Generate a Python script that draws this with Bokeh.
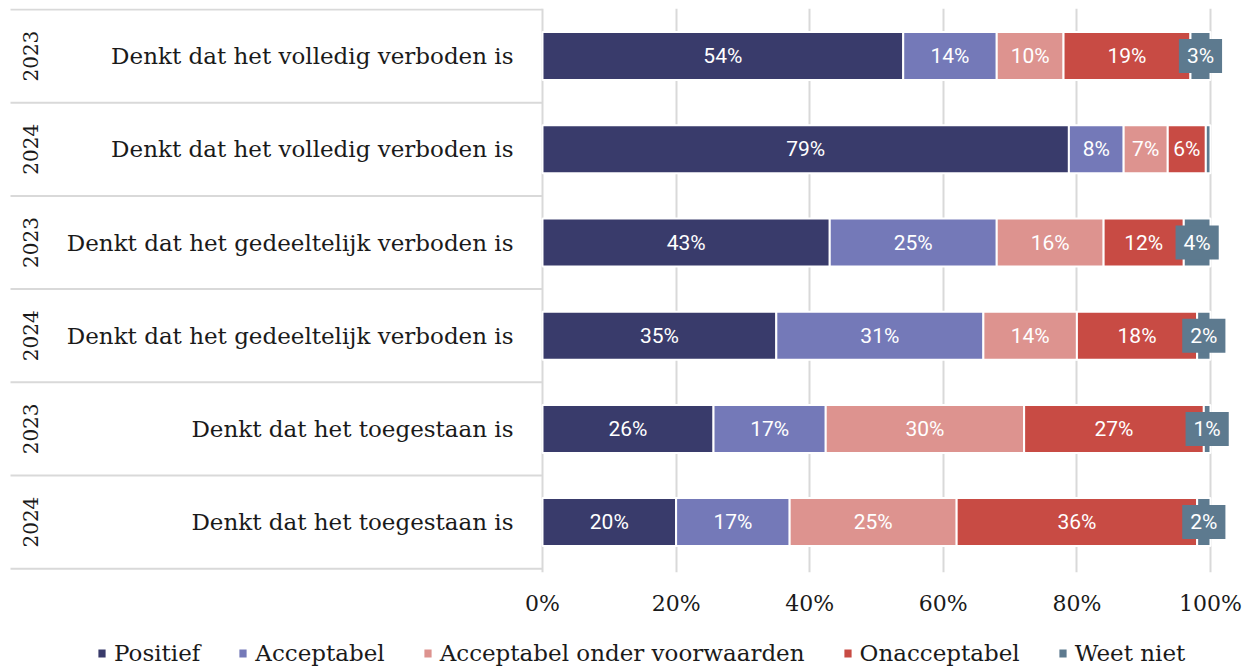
import math
from bokeh.plotting import figure
from bokeh.layouts import column
from bokeh.models import ColumnDataSource, Range1d, FixedTicker, Legend, LegendItem
from bokeh.core.properties import value
from bokeh.embed import file_html
from bokeh.resources import INLINE

# ---------------- data ----------------
years = ["2023", "2024", "2023", "2024", "2023", "2024"]
labels = [
    "Denkt dat het volledig verboden is",
    "Denkt dat het volledig verboden is",
    "Denkt dat het gedeeltelijk verboden is",
    "Denkt dat het gedeeltelijk verboden is",
    "Denkt dat het toegestaan is",
    "Denkt dat het toegestaan is",
]
series = ["Positief", "Acceptabel", "Acceptabel onder voorwaarden", "Onacceptabel", "Weet niet"]
positief = [54, 78.8, 43, 35, 25.6, 20]
acceptabel = [14, 8.2, 25, 31, 16.8, 17]
onder_voorwaarden = [10, 6.6, 16, 14, 29.7, 25]
onacceptabel = [19, 5.7, 12, 18, 26.9, 36]
weet_niet = [3, 0.7, 4, 2, 1.0, 2]
colors = ["#393b6b", "#7479b8", "#dd938f", "#c84b44", "#5d7a8f"]
ticks = [0, 20, 40, 60, 80, 100]
tick_labels = ["0%", "20%", "40%", "60%", "80%", "100%"]

# ---------------- layout constants ----------------
PX_PER_PCT = 6.68      # pixels per percent
ZERO_X = 542           # canvas x of 0%
FRAME_LEFT = 10
FRAME_RIGHT = 1238
FRAME_TOP = 8
ROW_PX = 93.2
FIG_W = 1255
FRAME_H = 564
MAIN_H = 632
LEG_H = 34

def px2x(px):
    return (px - ZERO_X) / PX_PER_PCT

n = len(years)
x_start = px2x(FRAME_LEFT)
x_end = px2x(FRAME_RIGHT)
y_top = -1.0 / ROW_PX
y_bottom = y_top + FRAME_H / ROW_PX

p = figure(
    width=FIG_W, height=MAIN_H,
    x_range=Range1d(x_start, x_end),
    y_range=Range1d(y_bottom, y_top),
    output_backend="svg", toolbar_location=None,
    y_axis_location=None,
    min_border_left=FRAME_LEFT,
    min_border_right=FIG_W - FRAME_RIGHT,
    min_border_top=FRAME_TOP,
    min_border_bottom=MAIN_H - FRAME_TOP - FRAME_H,
)
p.outline_line_color = None
p.background_fill_color = "white"
p.border_fill_color = "white"

# grid
p.xgrid.ticker = FixedTicker(ticks=ticks)
p.xgrid.grid_line_color = "#d9d9d9"
p.xgrid.grid_line_width = 2
p.ygrid.grid_line_color = None

# axis
ax = p.xaxis[0]
ax.ticker = FixedTicker(ticks=ticks)
ax.major_label_overrides = {t: l for t, l in zip(ticks, tick_labels)}
ax.axis_line_color = None
ax.major_tick_line_color = None
ax.minor_tick_line_color = None
ax.major_tick_out = 0
ax.major_tick_in = 0
ax.major_label_standoff = 18
ax.major_label_text_font = "DejaVu Serif"
ax.major_label_text_font_size = "22px"
ax.major_label_text_color = "#1a1a1a"

# table separators
bounds = list(range(n + 1))
p.segment(x0=[px2x(9)] * len(bounds), x1=[0] * len(bounds), y0=bounds, y1=bounds,
          line_color="#d9d9d9", line_width=2)

# bars
ycent = [i + 0.5 for i in range(n)]
keys = ["s0", "s1", "s2", "s3", "s4"]
vals = [positief, acceptabel, onder_voorwaarden, onacceptabel, weet_niet]
src = ColumnDataSource(dict(y=ycent, **{k: v for k, v in zip(keys, vals)}))
rs = p.hbar_stack(keys, y="y", height=0.515, color=colors, line_color="white",
                  line_width=2, source=src)

# segment labels
lx, ly, lt = [], [], []
wx, wy, wt = [], [], []
for i in range(n):
    cum = 0
    for j, v in enumerate(vals):
        c = cum + v[i] / 2
        cum += v[i]
        if v[i] < 1:
            continue
        txt = f"{int(math.floor(v[i] + 0.5))}%"
        if j == 4:
            wx.append(c); wy.append(ycent[i]); wt.append(txt)
        else:
            lx.append(c); ly.append(ycent[i]); lt.append(txt)

p.text(x=lx, y=ly, text=lt, text_align="center", text_baseline="middle",
       text_color="white", text_font=value("Roboto"), text_font_size="21px")
p.text(x=wx, y=wy, text=wt, text_align="center", text_baseline="middle",
       text_color="white", text_font=value("Roboto"), text_font_size="21px",
       background_fill_color=colors[4], padding=(8, 5))

# left table texts
p.text(x=[px2x(30)] * n, y=ycent, text=years, angle=math.pi / 2,
       text_align="center", text_baseline="middle", text_color="#1a1a1a",
       text_font=value("DejaVu Serif"), text_font_size="20px")
p.text(x=[px2x(513)] * n, y=ycent, text=labels, text_align="right",
       text_baseline="middle", text_color="#1a1a1a",
       text_font=value("DejaVu Serif"), text_font_size="23px")

# legend (separate strip below the chart; its bars lie outside the strip's view)
pl = figure(
    width=FIG_W, height=LEG_H, x_range=Range1d(0, 1), y_range=Range1d(100, 101),
    output_backend="svg", toolbar_location=None,
    x_axis_location=None, y_axis_location=None,
    min_border_left=0, min_border_right=0, min_border_top=0, min_border_bottom=0,
)
pl.outline_line_color = None
pl.xgrid.visible = False
pl.ygrid.visible = False
lrs = pl.hbar_stack(keys, y="y", height=0.5, color=colors, line_color=None,
                    source=src)
legend = Legend(
    items=[LegendItem(label=s, renderers=[r]) for s, r in zip(series, lrs)],
    orientation="horizontal", location=(87, 0),
    glyph_width=9, glyph_height=10, label_standoff=8, spacing=38,
    padding=0, margin=0, border_line_color=None, background_fill_alpha=0,
    label_text_font="DejaVu Serif", label_text_font_size="23px",
    label_text_color="#1a1a1a", label_text_baseline="middle",
)
pl.add_layout(legend, "center")

layout = column(p, pl, spacing=0)
open("out.html", "w").write(file_html(layout, INLINE))
